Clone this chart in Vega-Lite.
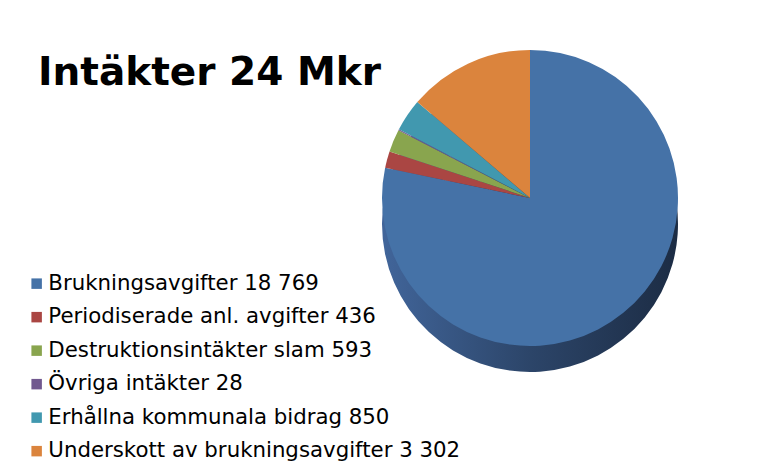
{
  "$schema": "https://vega.github.io/schema/vega-lite/v6.json",
  "width": 476,
  "height": 396,
  "autosize": {"type": "none"},
  "padding": {"left": 292, "top": 0, "right": 0, "bottom": 70},
  "background": "white",
  "title": {
    "text": "Intäkter 24 Mkr",
    "anchor": "start",
    "frame": "group",
    "orient": "top",
    "offset": 0,
    "dx": -254,
    "dy": 124,
    "baseline": "alphabetic",
    "font": "DejaVu Sans",
    "fontSize": 39,
    "fontWeight": "bold",
    "color": "#000000"
  },
  "data": {
    "values": [
      {"i": 1, "label": "Brukningsavgifter 18 769", "value": 18769},
      {"i": 2, "label": "Periodiserade anl. avgifter 436", "value": 436},
      {"i": 3, "label": "Destruktionsintäkter slam 593", "value": 593},
      {"i": 4, "label": "Övriga intäkter 28", "value": 28},
      {"i": 5, "label": "Erhållna kommunala bidrag 850", "value": 850},
      {"i": 6, "label": "Underskott av brukningsavgifter 3 302", "value": 3302}
    ]
  },
  "encoding": {
    "theta": {"field": "value", "type": "quantitative", "stack": true},
    "order": {"field": "i", "type": "quantitative"}
  },
  "layer": [
    {
      "mark": {
        "type": "arc",
        "outerRadius": 148,
        "yOffset": 26,
        "stroke": null,
        "color": {
          "gradient": "linear",
          "x1": 0, "y1": 0, "x2": 1, "y2": 0,
          "stops": [
            {"offset": 0, "color": "#41659A"},
            {"offset": 0.5, "color": "#2C4569"},
            {"offset": 1, "color": "#1C2C44"}
          ]
        }
      }
    },
    {
      "mark": {"type": "arc", "outerRadius": 148, "stroke": null},
      "encoding": {
        "color": {
          "field": "label",
          "type": "nominal",
          "sort": null,
          "scale": {
            "range": ["#4572A7", "#AA4643", "#89A54E", "#71588F", "#4198AF", "#DB843D"]
          },
          "legend": {
            "orient": "none",
            "legendX": -266,
            "legendY": 273,
            "title": null,
            "padding": 0,
            "symbolType": "square",
            "symbolSize": 110,
            "symbolStrokeWidth": 0,
            "labelFont": "DejaVu Sans",
            "labelFontSize": 21.3,
            "labelColor": "#000000",
            "labelOffset": 1,
            "labelLimit": 600,
            "rowPadding": 11.5
          }
        }
      }
    }
  ],
  "config": {"view": {"stroke": null}}
}
